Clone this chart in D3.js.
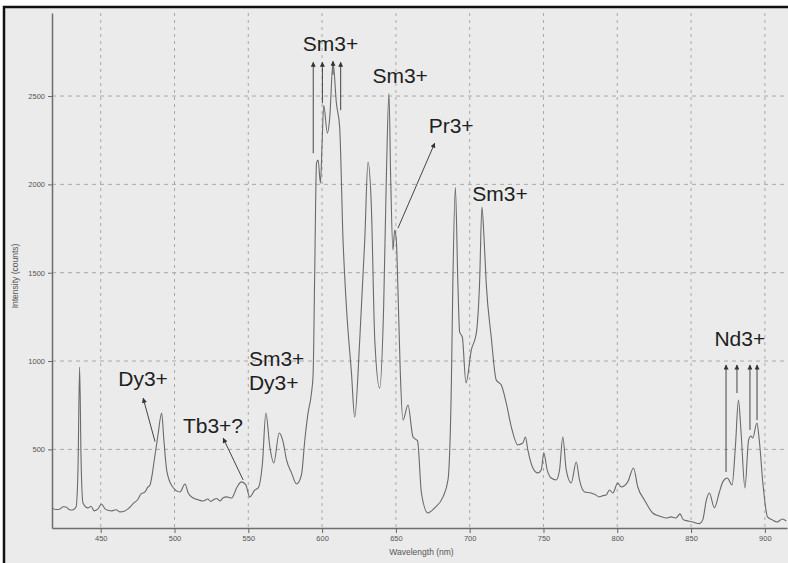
<!DOCTYPE html>
<html>
<head>
<meta charset="utf-8">
<script src="https://cdn.jsdelivr.net/npm/d3@7/dist/d3.min.js"></script>
<style>
  body { margin: 0; background: #fff; }
  svg { display: block; font-family: "Liberation Sans", Arial, sans-serif; }
</style>
</head>
<body>
<div id="chart"></div>
<script>
// spectrum
var wavelength = [417.0, 419.5, 422.5, 424.5, 426.5, 428.5, 430.6, 433.3, 434.6, 435.7,
  436.7, 438.0, 441.4, 443.5, 445.5, 448.2, 450.5, 452.9, 455.0, 457.6,
  460.5, 463.1, 466.0, 468.5, 472.5, 475.0, 477.3, 480.0, 481.8,
  483.4, 486.8, 488.8, 491.3, 492.8, 494.7, 498.3, 503.7, 507.1, 509.3,
  512.7, 516.0, 519.4, 522.6, 524.5, 526.2, 528.5, 530.7, 533.0, 535.3, 538.7, 542.4, 545.4, 548.3,
  551.0, 554.4, 556.7, 559.6, 561.9, 564.6, 567.3, 570.9, 573.6, 575.9,
  579.3, 582.7, 586.0, 588.3, 590.3, 592.8, 593.9, 595.0, 596.2, 597.3,
  598.9, 600.0, 601.1, 603.6, 605.2, 607.4, 609.7, 611.9, 614.2, 616.5,
  619.9, 622.1, 625.5, 628.9, 631.1, 633.4, 635.7, 639.0, 641.7, 643.6,
  645.3, 646.5, 648.0, 649.2, 650.3, 651.4, 653.0, 654.8, 658.2, 661.6,
  664.7, 667.3, 671.7, 676.3, 681.9, 685.3, 687.6, 688.6, 690.3, 692.0,
  693.2, 695.0, 697.5, 701.1, 704.5, 706.7, 708.3, 709.8, 711.2, 714.6,
  718.0, 721.4, 724.8, 728.2, 732.6, 736.0, 737.8, 739.4, 742.8, 746.2,
  748.5, 750.2, 752.5, 755.2, 758.6, 760.9, 763.1, 765.4, 768.8, 772.2,
  774.4, 777.8, 782.3, 785.0, 787.9, 790.0, 792.5, 794.7, 797.0, 800.3, 802.6, 807.1,
  811.0, 813.9, 818.4, 824.0, 828.5, 833.1, 836.5, 839.8, 842.5, 844.8, 848.0, 851.1,
  855.6, 857.9, 860.4, 862.4, 865.8, 869.2, 871.5, 874.5, 877.8, 880.1,
  882.1, 883.9, 886.5, 889.0, 890.6, 891.8, 894.6, 896.2, 898.9, 901.8,
  905.0, 908.4, 911.8, 914.5];
var intensity = [169, 160, 163, 175, 174, 160, 157, 174, 383, 966,
  440, 197, 169, 178, 152, 163, 191, 163, 155, 152,
  158, 146, 150, 163, 197, 215, 248, 259, 285,
  299, 468, 581, 706, 553, 383, 293, 259, 304, 253,
  225, 215, 208, 219, 205, 214, 222, 208, 226, 231, 225, 287, 316, 299,
  231, 270, 282, 423, 706, 514, 423, 593, 542, 440,
  367, 304, 355, 553, 695, 819, 921, 1498, 2120, 2137,
  2007, 2233, 2448, 2290, 2380, 2691, 2459, 2324, 1684, 1305,
  932, 683, 1119, 1684, 2126, 1871, 1119, 847, 1305, 2063,
  2516, 2024, 1628, 1741, 1684, 1402, 932, 666, 751, 570,
  548, 253, 140, 169, 231, 327, 876, 1441, 1984, 1441,
  1164, 1136, 876, 1062, 1158, 1441, 1871, 1684, 1441, 1136,
  893, 864, 762, 627, 525, 536, 570, 497, 395, 367,
  384, 480, 384, 338, 327, 384, 570, 384, 310, 429,
  327, 259, 253, 244, 231, 238, 242, 270, 253, 310, 287, 316,
  395, 287, 214, 140, 123, 112, 118, 112, 135, 101, 95, 89,
  80, 101, 214, 253, 169, 259, 316, 338, 299, 525,
  779, 593, 282, 553, 576, 565, 649, 553, 287, 118,
  101, 89, 106, 95];

var xTicks = [450, 500, 550, 600, 650, 700, 750, 800, 850, 900];
var yTicks = [500, 1000, 1500, 2000, 2500];

// annotation text: [text, wavelength, intensity of baseline]
var labelText = ["Sm3+", "Sm3+", "Pr3+", "Sm3+", "Dy3+", "Tb3+?", "Sm3+", "Dy3+", "Nd3+"];
var labelWave = [586.9, 634.1, 672.2, 701.8, 461.9, 505.7, 550.4, 550.4, 865.8];
var labelCounts = [2753, 2572, 2290, 1905, 859, 593, 972, 836, 1085];

// arrows: start (wavelength, counts) -> head (wavelength, counts)
var arrowFromWave = [486.8, 546.5, 651.4, 594.0, 600.2, 607.4, 612.6, 873.7, 881.1, 889.9, 894.7];
var arrowFromCounts = [544, 327, 1752, 2176, 2459, 2620, 2420, 372, 819, 610, 666];
var arrowToWave = [478.8, 533.0, 676.3, 594.0, 600.2, 607.4, 612.6, 873.7, 881.1, 889.9, 894.7];
var arrowToCounts = [789, 563, 2233, 2691, 2691, 2697, 2691, 977, 977, 977, 977];

var width = 788, height = 563;
var margin = {top: 13, right: 1, bottom: 35, left: 52};

var svg = d3.select("#chart")
  .append("svg")
  .attr("width", width)
  .attr("height", height);

svg.append("rect")
  .attr("width", width)
  .attr("height", height)
  .attr("fill", "#fff");

// grey panel with the black frame
svg.append("rect")
  .attr("x", 4)
  .attr("y", 7)
  .attr("width", width + 10)
  .attr("height", height + 10)
  .attr("fill", "#ebebeb")
  .attr("stroke", "#111")
  .attr("stroke-width", 2.5);

var x = d3.scaleLinear()
  .domain([417, 915])
  .range([margin.left, width - margin.right]);

var y = d3.scaleLinear()
  .domain([55, 2970])
  .range([height - margin.bottom, margin.top]);

var defs = svg.append("defs");
defs.append("marker")
  .attr("id", "head")
  .attr("viewBox", "0 0 10 10")
  .attr("refX", 9)
  .attr("refY", 5)
  .attr("markerWidth", 6)
  .attr("markerHeight", 5)
  .attr("markerUnits", "userSpaceOnUse")
  .attr("orient", "auto")
  .append("path")
  .attr("d", "M0,0 L10,5 L0,10 z")
  .attr("fill", "#333");

// grid
var grid = svg.append("g").attr("class", "grid");
grid.selectAll("line.v")
  .data(xTicks)
  .enter().append("line")
  .attr("class", "v")
  .attr("x1", function (d) { return x(d); })
  .attr("x2", function (d) { return x(d); })
  .attr("y1", y.range()[1])
  .attr("y2", y.range()[0])
  .attr("stroke", "#a8a8a8")
  .attr("stroke-dasharray", "3,4");

grid.selectAll("line.h")
  .data(yTicks)
  .enter().append("line")
  .attr("class", "h")
  .attr("x1", x.range()[0])
  .attr("x2", x.range()[1])
  .attr("y1", function (d) { return y(d); })
  .attr("y2", function (d) { return y(d); })
  .attr("stroke", "#a8a8a8")
  .attr("stroke-dasharray", "4,4");

// spectrum
var points = wavelength.map(function (w, i) { return [w, intensity[i]]; });
var line = d3.line()
  .curve(d3.curveMonotoneX)
  .x(function (d) { return x(d[0]); })
  .y(function (d) { return y(d[1]); });

svg.append("path")
  .datum(points)
  .attr("d", line)
  .attr("fill", "none")
  .attr("stroke", "#6a6a6a")
  .attr("stroke-width", 1.1);

// axes
var xAxis = svg.append("g")
  .attr("transform", "translate(0," + y.range()[0] + ")")
  .call(d3.axisBottom(x).tickValues(xTicks).tickSize(5).tickPadding(3).tickSizeOuter(0));

var yAxis = svg.append("g")
  .attr("transform", "translate(" + x.range()[0] + ",0)")
  .call(d3.axisLeft(y).tickValues(yTicks).tickFormat(d3.format("d"))
    .tickSize(4).tickPadding(3).tickSizeOuter(0));

[xAxis, yAxis].forEach(function (g) {
  g.select(".domain").attr("stroke", "#6e6e6e").attr("stroke-width", 1.5);
  g.selectAll(".tick line").attr("stroke", "#666");
  g.selectAll(".tick text")
    .attr("fill", "#555")
    .style("font-size", "7.5px")
    .style("font-family", "'Liberation Sans', Arial, sans-serif");
});

svg.append("text")
  .attr("x", (x.range()[0] + x.range()[1]) / 2 + 2)
  .attr("y", height - 8)
  .attr("text-anchor", "middle")
  .attr("fill", "#555")
  .style("font-size", "8.5px")
  .text("Wavelength (nm)");

svg.append("text")
  .attr("transform", "translate(18," + 276 + ") rotate(-90)")
  .attr("text-anchor", "middle")
  .attr("fill", "#555")
  .style("font-size", "8.5px")
  .text("Intensity (counts)");

// annotations
svg.append("g").selectAll("line")
  .data(arrowFromWave)
  .enter().append("line")
  .attr("x1", function (d) { return x(d); })
  .attr("y1", function (d, i) { return y(arrowFromCounts[i]); })
  .attr("x2", function (d, i) { return x(arrowToWave[i]); })
  .attr("y2", function (d, i) { return y(arrowToCounts[i]); })
  .attr("stroke", "#444")
  .attr("stroke-width", 1)
  .attr("marker-end", "url(#head)");

svg.append("g").selectAll("text")
  .data(labelText)
  .enter().append("text")
  .attr("x", function (d, i) { return x(labelWave[i]); })
  .attr("y", function (d, i) { return y(labelCounts[i]); })
  .attr("fill", "#1e1e1e")
  .style("font-size", "21px")
  .text(function (d) { return d; });
</script>
</body>
</html>
